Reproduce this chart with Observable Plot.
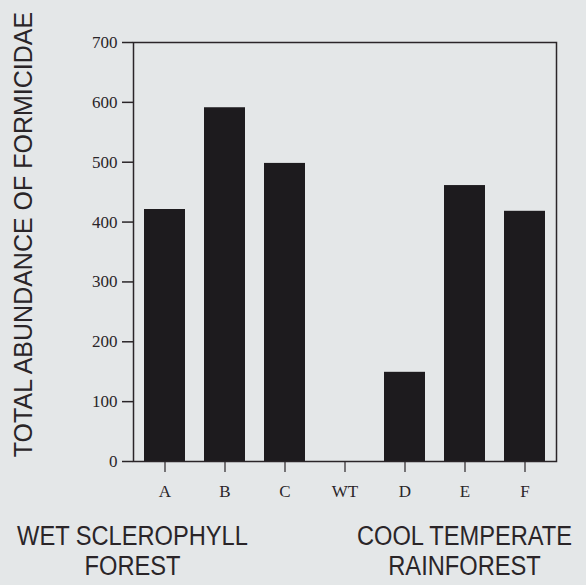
<!DOCTYPE html>
<html>
<head>
<meta charset="utf-8">
<script src="https://cdn.jsdelivr.net/npm/d3@7"></script>
<script src="https://cdn.jsdelivr.net/npm/@observablehq/plot@0.6"></script>
<style>
  html, body { margin: 0; padding: 0; background: #e4e7e8; }
  #chart svg { display: block; }
</style>
</head>
<body>
<div id="chart"></div>
<script>
// Data
const sites = ["A", "B", "C", "WT", "D", "E", "F"];
const abundance = [421, 591, 498, 0, 149, 461, 418];
const yTicks = [0, 100, 200, 300, 400, 500, 600, 700];
const yLabel = "TOTAL ABUNDANCE OF FORMICIDAE";
const groupLabels = ["WET SCLEROPHYLL\nFOREST", "COOL TEMPERATE\nRAINFOREST"];

const rows = sites.map((s, i) => ({site: s, value: abundance[i]}));
const ink = "#2a2528";

const plot = Plot.plot({
  width: 586,
  height: 585,
  marginLeft: 133,
  marginRight: 30,
  marginTop: 42,
  marginBottom: 124,
  style: {background: "#e4e7e8", color: ink, overflow: "visible"},
  x: {domain: sites, paddingInner: 0.32, paddingOuter: 0.16},
  y: {domain: [0, 700]},
  marks: [
    Plot.barY(rows, {x: "site", y: "value", fill: "#1d1b1e"}),
    Plot.frame({stroke: ink, strokeWidth: 1.5}),
    Plot.axisY({ticks: yTicks, tickSize: 11, tickPadding: 5, fontSize: 17,
      fontFamily: "Liberation Serif, serif", label: null, strokeWidth: 1.5}),
    Plot.axisX({tickSize: 11, tickPadding: 12, fontSize: 17,
      fontFamily: "Liberation Serif, serif", label: null, strokeWidth: 1.2}),
    Plot.text([yLabel], {frameAnchor: "left", textAnchor: "middle", dx: -109.5, dy: -17.5, rotate: -90,
      fontSize: 25, fontFamily: "Liberation Sans, Arial, sans-serif", fill: ink}),
    Plot.text([groupLabels[0]], {frameAnchor: "bottom-left", textAnchor: "middle", dx: -1, dy: 62,
      lineAnchor: "top", lineHeight: 1.07, fontSize: 28,
      fontFamily: "Liberation Sans, Arial, sans-serif", fill: ink}),
    Plot.text([groupLabels[1]], {frameAnchor: "bottom-left", textAnchor: "middle", dx: 331, dy: 62,
      lineAnchor: "top", lineHeight: 1.07, fontSize: 28,
      fontFamily: "Liberation Sans, Arial, sans-serif", fill: ink})
  ]
});

document.getElementById("chart").appendChild(plot);

// Horizontally condense the two group labels (narrow face in the original)
const firstLines = groupLabels.map(s => s.split("\n")[0]);
d3.select(plot).selectAll("text").each(function() {
  const ts = this.querySelector("tspan");
  if (!ts || !firstLines.includes(ts.textContent)) return;
  const bb = this.getBBox();
  const cx = bb.x + bb.width / 2;
  const tr = this.getAttribute("transform") || "";
  this.setAttribute("transform", `${tr} translate(${cx},0) scale(0.845,1) translate(${-cx},0)`);
});
</script>
</body>
</html>
